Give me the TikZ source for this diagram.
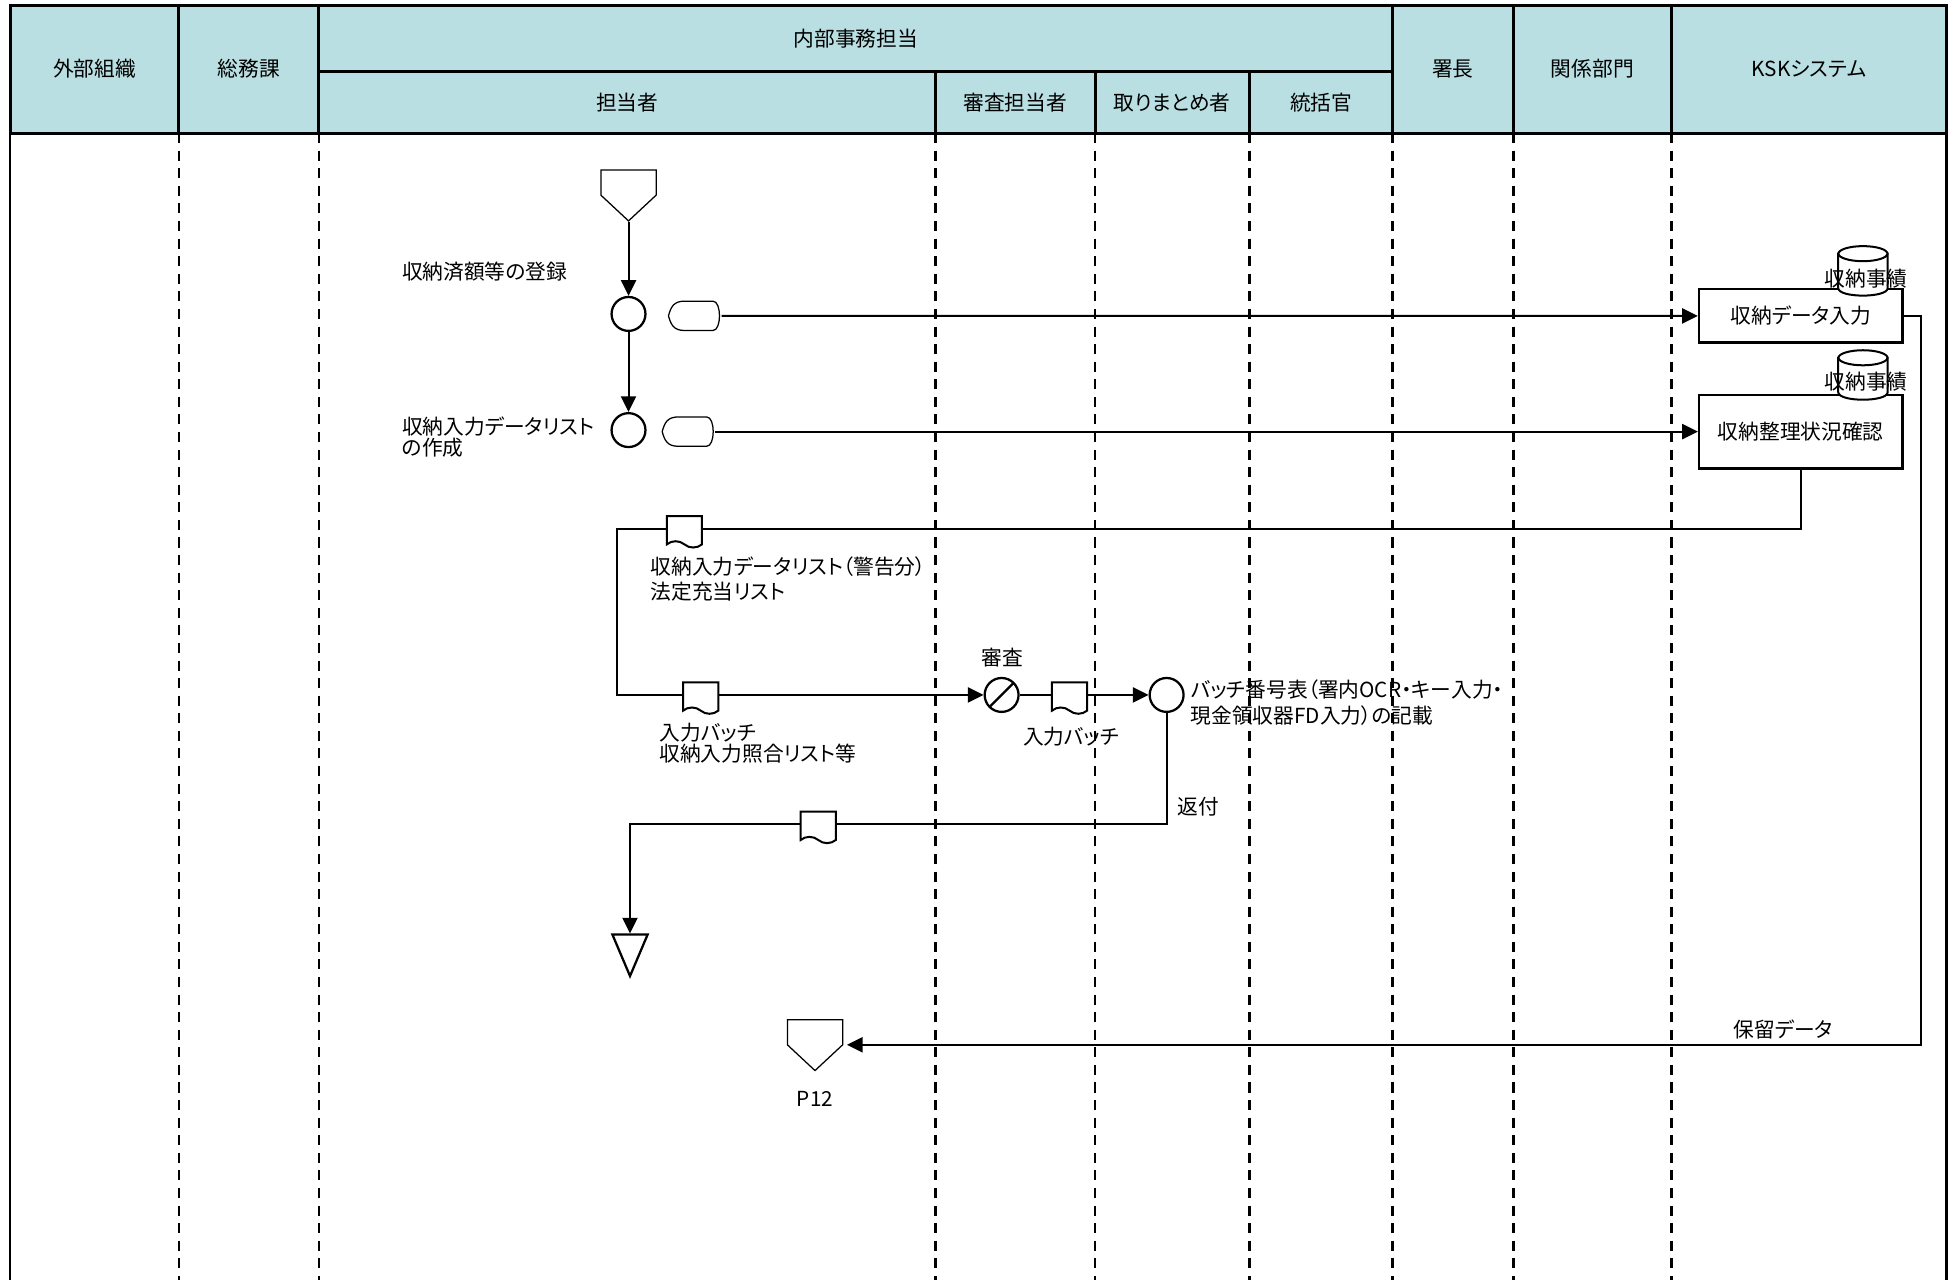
\documentclass[tikz,border=0pt]{standalone}
\usepackage{fontspec}
\setmainfont[RawFeature=+palt]{Noto Sans CJK JP}
\usetikzlibrary{calc, shapes, arrows.meta}

\definecolor{headfill}{RGB}{185,223,226}

\begin{document}
\begin{tikzpicture}[x=1pt, y=-1pt]
    \tikzstyle{head} = [rectangle, draw, line width=2.4pt, fill=headfill, inner sep=0pt, outer sep=0pt, font=\fontsize{16.5}{17}\selectfont]
    \tikzstyle{lane} = [line width=2.2pt, dash pattern=on 8pt off 6pt]
    \tikzstyle{border} = [line width=2.2pt]
    \tikzstyle{txt} = [inner sep=0pt, font=\fontsize{16.5}{16.5}\selectfont]
    \tikzstyle{proc} = [circle, draw, line width=1.8pt, minimum size=27pt, inner sep=0pt]
    \tikzstyle{review} = [forbidden sign, draw, line width=1.8pt, minimum size=27pt, inner sep=0pt]
    \tikzstyle{doc} = [tape, tape bend top=none, tape bend bottom=out and in, tape bend height=5pt, draw, fill=white, line width=1.6pt, minimum width=28pt, minimum height=25pt, inner sep=0pt]
    \tikzstyle{offpage} = [signal, signal to=south, signal from=nowhere, signal pointer angle=94, draw, line width=1pt, minimum width=44pt, minimum height=20pt, inner sep=0pt]
    \tikzstyle{sink} = [isosceles triangle, isosceles triangle stretches, shape border rotate=-90, draw, line width=1.8pt, minimum width=28pt, minimum height=33pt, inner sep=0pt]
    \tikzstyle{screen} = [rectangle, minimum width=42pt, minimum height=23pt, inner sep=0pt]
    \tikzstyle{task} = [rectangle, draw, line width=1.9pt, minimum width=162pt, inner sep=0pt, font=\fontsize{16.5}{17}\selectfont]
    \tikzstyle{store} = [draw, fill=white, line width=1.6pt]
    \tikzstyle{link} = [line width=1.6pt]
    \tikzstyle{flow} = [line width=1.6pt, -{Triangle[length=12.5pt, width=12pt]}]

    \useasboundingbox (0, 0) rectangle (1560, 1019);
    \fill [white] (0, 0) rectangle (1560, 1019);

    % Header -------------------------------------------
    \node (gaibu) at (75.25, 55) [head, minimum width=134.5pt, minimum height=102pt] {外部組織};
    \node (somu) at (198.25, 55) [head, minimum width=111.5pt, minimum height=102pt] {総務課};
    \node (naibu) at (681.5, 30.5) [head, minimum width=855pt, minimum height=53pt] {内部事務担当};
    \node (tanto) at (499.5, 81.5) [head, minimum width=491pt, minimum height=49pt] {担当者};
    \node (shinsa) at (808.5, 81.5) [head, minimum width=127pt, minimum height=49pt] {審査担当者};
    \node (matome) at (933.5, 81.5) [head, minimum width=123pt, minimum height=49pt] {取りまとめ者};
    \node (tokatsu) at (1052, 81.5) [head, minimum width=114pt, minimum height=49pt] {統括官};
    \node (shocho) at (1157, 55) [head, minimum width=96pt, minimum height=102pt] {署長};
    \node (kankei) at (1268, 55) [head, minimum width=126pt, minimum height=102pt] {関係部門};
    \node (ksk) at (1440.5, 55) [head, minimum width=219pt, minimum height=102pt] {KSKシステム};

    % Lanes
    \draw [border] (gaibu.south west) -- ++(0, 913);
    \draw [border] (ksk.south east) -- ++(0, 913);
    \draw [lane] (somu.south west) -- ++(0, 913);
    \draw [lane] (tanto.south west) -- ++(0, 913);
    \draw [lane] (shinsa.south west) -- ++(0, 913);
    \draw [lane] (matome.south west) -- ++(0, 913);
    \draw [lane] (tokatsu.south west) -- ++(0, 913);
    \draw [lane] (shocho.south west) -- ++(0, 913);
    \draw [lane] (kankei.south west) -- ++(0, 913);
    \draw [lane] (ksk.south west) -- ++(0, 913);
    % ---------------------------------------------------

    % Registration --------------------------------------
    \node (start) at (500.5, 145.4) [offpage] {};
    \node (proc1) at ($(start) + (0, 104.6)$) [proc] {};
    \node (proc2) at ($(proc1) + (0, 92.5)$) [proc] {};
    \node (lbl_reg) at (320, 216) [txt, right] {収納済額等の登録};
    \node (lbl_list) at (320, 348) [txt, right, align=left] {収納入力データリスト\\の作成};

    \node (disp1) at (553.5, 251.5) [screen] {};
    \node (disp2) at (548.5, 343.7) [screen] {};
    \draw [line width=1pt] (disp1.west) .. controls ($(disp1.west) + (2, -7)$) and ($(disp1.north west) + (4, 0)$) .. ($(disp1.north west) + (13, 0)$) -- ($(disp1.north east) + (-7, 0)$) .. controls (disp1.north east) and (disp1.south east) .. ($(disp1.south east) + (-7, 0)$) -- ($(disp1.south west) + (13, 0)$) .. controls ($(disp1.south west) + (4, 0)$) and ($(disp1.west) + (2, 7)$) .. (disp1.west);
    \draw [line width=1pt] (disp2.west) .. controls ($(disp2.west) + (2, -7)$) and ($(disp2.north west) + (4, 0)$) .. ($(disp2.north west) + (13, 0)$) -- ($(disp2.north east) + (-7, 0)$) .. controls (disp2.north east) and (disp2.south east) .. ($(disp2.south east) + (-7, 0)$) -- ($(disp2.south west) + (13, 0)$) .. controls ($(disp2.south west) + (4, 0)$) and ($(disp2.west) + (2, 7)$) .. (disp2.west);

    % KSK tasks
    \node (box1) at (1434, 251.6) [task, minimum height=42.5pt] {収納データ入力};
    \node (box2) at (1434, 343.7) [task, minimum height=58.5pt] {収納整理状況確認};
    \node (db1) at (1483.5, 215.7) [minimum size=39pt, inner sep=0pt] {};
    \node (db2) at (1483.5, 298.6) [minimum size=39pt, inner sep=0pt] {};
    \draw [store] ($(db1.north west) + (0, 6)$) -- ($(db1.south west) + (0, -6)$) .. controls ($(db1.south west) + (0, 2)$) and ($(db1.south east) + (0, 2)$) .. ($(db1.south east) + (0, -6)$) -- ($(db1.north east) + (0, 6)$) -- cycle;
    \draw [store] ($(db1.north) + (0, 6)$) ellipse [x radius=19.5, y radius=6];
    \draw [store] ($(db2.north west) + (0, 6)$) -- ($(db2.south west) + (0, -6)$) .. controls ($(db2.south west) + (0, 2)$) and ($(db2.south east) + (0, 2)$) .. ($(db2.south east) + (0, -6)$) -- ($(db2.north east) + (0, 6)$) -- cycle;
    \draw [store] ($(db2.north) + (0, 6)$) ellipse [x radius=19.5, y radius=6];
    \node (db1_lbl) at (1486, 221.6) [txt] {収納事績};
    \node (db2_lbl) at (1486, 303.9) [txt] {収納事績};

    \draw [flow] (start.south) -- (proc1.north);
    \draw [flow] (proc1.south) -- (proc2.north);
    \draw [flow] (disp1.east) -- (box1.west);
    \draw [flow] (disp2.east) -- (box2.west);
    % ---------------------------------------------------

    % Review --------------------------------------------
    \node (doc1) at (545, 421) [doc] {};
    \node (doc2) at (558, 553.4) [doc] {};
    \node (review) at (797.6, 553.4) [review] {};
    \node (doc3) at (851.7, 553.4) [doc] {};
    \node (batch) at (929, 553.4) [proc] {};
    \coordinate (corner1) at (491.6, 421);

    \node (lbl_warn) at (518, 461) [txt, right, align=left, font=\fontsize{16.5}{20}\selectfont] {収納入力データリスト（警告分）\\法定充当リスト};
    \node (lbl_batch) at (525, 592) [txt, right, align=left] {入力バッチ\\収納入力照合リスト等};
    \node (lbl_review) at (798, 524) [txt] {審査};
    \node (lbl_batch2) at (853, 586.6) [txt] {入力バッチ};
    \node (lbl_record) at (948, 559.5) [txt, right, align=left, font=\fontsize{16.5}{20.5}\selectfont] {バッチ番号表（署内OCR・キー入力・\\現金領収器FD入力）の記載};

    \draw [link] (box2.south) |- (doc1.east);
    \draw [link] (doc1.west) -- (corner1) |- (doc2.west);
    \draw [flow] (doc2.east) -- (review.west);
    \draw [link] (review.east) -- (doc3.west);
    \draw [flow] (doc3.east) -- (batch.west);
    % ---------------------------------------------------

    % Return and hold -----------------------------------
    \node (doc4) at (651.6, 656.4) [doc] {};
    \node (sink) at (501.7, 779.6) [sink, anchor=apex] {};
    \coordinate (corner2) at (501.7, 656.4);
    \node (lbl_return) at (954, 642) [txt] {返付};

    \draw [link] (batch.south) |- (doc4.east);
    \draw [flow] (doc4.west) -- (corner2) -- (sink.north);

    \node (p12) at (649, 822) [offpage] {};
    \node (lbl_p12) at (649, 875) [txt] {P12};
    \node (lbl_hold) at (1420, 819.5) [txt] {保留データ};
    \coordinate (corner3) at (1530, 251.6);
    \coordinate (corner4) at (1530, 832);

    \draw [flow, shorten >=3pt] (box1.east) -- (corner3) -- (corner4) -- (p12.east |- corner4);
    % ---------------------------------------------------
\end{tikzpicture}
\end{document}
